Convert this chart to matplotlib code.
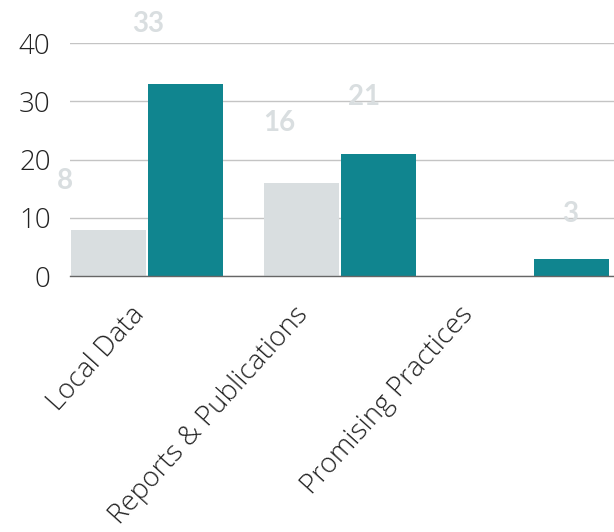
import numpy as np
import matplotlib
matplotlib.use("Agg")
import matplotlib.pyplot as plt
import matplotlib.transforms as mtransforms

categories = ["Local Data", "Reports & Publications", "Promising Practices"]
grey_vals = [8, 16, 0]
teal_vals = [33, 21, 3]
yticks = [0, 10, 20, 30, 40]

GREY = "#d9dee0"
TEAL = "#10858f"
LABEL = "#d9dee0"

fig = plt.figure(figsize=(6.14, 5.32), dpi=100)
ax = fig.add_axes([0.114, 0.481, 0.886, 0.438])

x = np.arange(len(categories))
w = 0.39
b1 = ax.bar(x - 0.2, grey_vals, w, color=GREY, zorder=2)
b2 = ax.bar(x + 0.2, teal_vals, w, color=TEAL, zorder=2)

ax.set_ylim(0, 40)
ax.set_xlim(-0.4, 2.42)
ax.set_yticks(yticks)
ax.set_yticklabels([str(t) for t in yticks], fontfamily="Open Sans",
                   fontweight="light", fontsize=20, color="#222222")
ax.tick_params(axis="y", length=0, pad=14)
ax.tick_params(axis="x", length=0, pad=18)
ax.grid(axis="y", color="#c4c4c4", linewidth=1, zorder=0)
for s in ["top", "right", "left"]:
    ax.spines[s].set_visible(False)
ax.spines["bottom"].set_color("#666666")
ax.spines["bottom"].set_linewidth(1)

# value labels (pixel offsets from bar top)
grey_off = [(-44, 49), (-22, 60), None]
teal_off = [(-38, 60), (-15, 57), (-1, 45)]
for bars, vals, offs in [(b1, grey_vals, grey_off), (b2, teal_vals, teal_off)]:
    for rect, v, off in zip(bars, vals, offs):
        if v == 0 or off is None:
            continue
        ax.annotate(str(v), (rect.get_x() + rect.get_width() / 2, v),
                    xytext=off, textcoords="offset pixels",
                    ha="center", va="center", fontfamily="Lato",
                    fontweight="bold", fontsize=20, color=LABEL,
                    annotation_clip=False)

ax.set_xticks(x)
ax.set_xticklabels(categories, rotation=48, ha="right", va="top",
                   rotation_mode="anchor", fontfamily="Open Sans",
                   fontweight="light", fontsize=20, color="#222222")
shifts = [-17, -47, -75]
for lbl, dx in zip(ax.get_xticklabels(), shifts):
    lbl.set_transform(lbl.get_transform() +
                      mtransforms.ScaledTranslation(dx / 100, 0, fig.dpi_scale_trans))

fig.savefig("out.png", dpi=100)
